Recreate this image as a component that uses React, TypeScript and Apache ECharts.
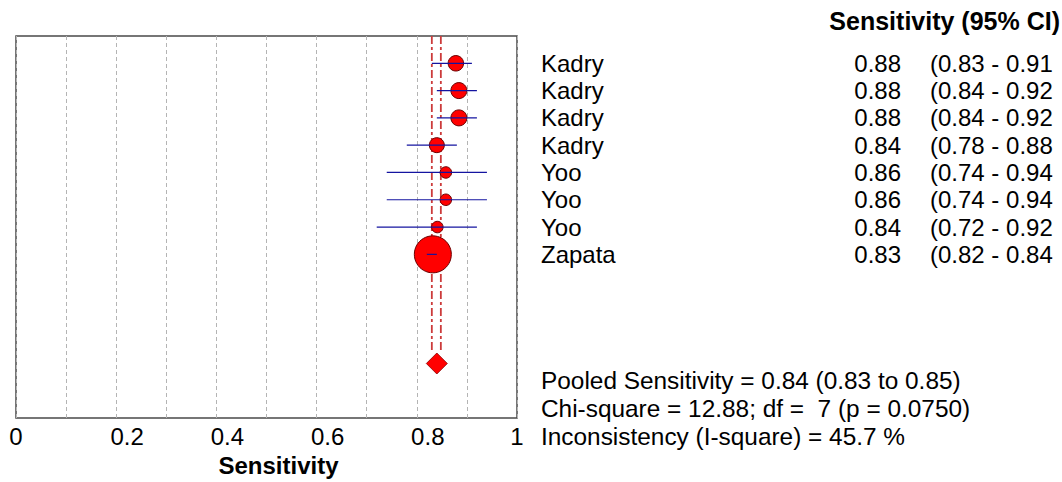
import React, { useEffect, useRef } from "react";
import * as echarts from "echarts";

const studies = ["Kadry", "Kadry", "Kadry", "Kadry", "Yoo", "Yoo", "Yoo", "Zapata"];
const sens = [0.878, 0.884, 0.884, 0.84, 0.858, 0.858, 0.841, 0.832];
const ciLow = [0.83, 0.84, 0.84, 0.78, 0.74, 0.74, 0.72, 0.82];
const ciHigh = [0.91, 0.92, 0.92, 0.88, 0.94, 0.94, 0.92, 0.84];
const weights = [15.5, 16, 16, 15, 11.5, 11.5, 11.5, 37];
const pooled = 0.84;
const pooledLow = 0.83;
const pooledHigh = 0.848;
const statLines = [
  "Pooled Sensitivity = 0.84 (0.83 to 0.85)",
  "Chi-square = 12.88; df =  7 (p = 0.0750)",
  "Inconsistency (I-square) = 45.7 %",
];
const ciTexts = [
  "(0.83 - 0.91",
  "(0.84 - 0.92",
  "(0.84 - 0.92",
  "(0.78 - 0.88",
  "(0.74 - 0.94",
  "(0.74 - 0.94",
  "(0.72 - 0.92",
  "(0.82 - 0.84",
];
const header = "Sensitivity (95% CI)";
const xTitle = "Sensitivity";

const FONT = 'Arial, "Liberation Sans", sans-serif';

export default function App() {
  const ref = useRef<HTMLDivElement>(null);
  useEffect(() => {
    if (!ref.current) return;
    const chart = echarts.init(ref.current, undefined, { renderer: "svg" });
    const rowY = studies.map((_, i) => i + 1);
    const pooledY = 12;

    const option: any = {
      animation: false,
      backgroundColor: "#ffffff",
      grid: {
        left: 16,
        right: 545,
        top: 36,
        bottom: 61,
        show: true,
        borderColor: "#4a4a4a",
        borderWidth: 1.5,
        backgroundColor: "transparent",
      },
      xAxis: {
        type: "value",
        min: 0,
        max: 1,
        interval: 0.1,
        axisLine: { show: false },
        axisTick: { show: false },
        splitLine: { show: true, lineStyle: { color: "#b4b4b4", type: [4, 3], width: 1 } },
        axisLabel: {
          margin: 6,
          color: "#000",
          fontFamily: FONT,
          fontSize: 24,
          formatter: (v: number) => {
            const k = Math.round(v * 10);
            if (k === 0) return "0";
            if (k === 10) return "1";
            if (k % 2 !== 0) return "";
            return "{m|" + (k / 10).toString() + "}";
          },
          rich: {
            m: { fontFamily: FONT, fontSize: 24, color: "#000", padding: [0, 0, 0, 22] },
          },
        },
        name: xTitle,
        nameLocation: "middle",
        nameGap: 33,
        nameTextStyle: {
          fontFamily: FONT,
          fontSize: 24,
          fontWeight: "bold",
          color: "#000",
          padding: [0, 0, 0, 24],
        },
      },
      yAxis: {
        type: "value",
        min: 0,
        max: 14,
        inverse: true,
        show: false,
        splitLine: { show: false },
      },
      series: [
        {
          type: "custom",
          name: "pooledLines",
          z: 1,
          renderItem: (params: any, api: any) => {
            const x = api.value(0);
            const a = api.coord([x, 0]);
            const b = api.coord([x, 11.55]);
            return {
              type: "line",
              shape: { x1: a[0], y1: a[1], x2: b[0], y2: b[1] },
              style: { stroke: "#cc3b3b", lineWidth: 1.8, lineDash: [8, 3, 3, 3] },
            };
          },
          data: [[pooledLow], [pooledHigh]],
          silent: true,
        },
        {
          type: "scatter",
          name: "studies",
          z: 2,
          symbol: "circle",
          data: sens.map((s, i) => ({ value: [s, rowY[i]], symbolSize: weights[i] })),
          itemStyle: { color: "#ff0000", borderColor: "#6a0000", borderWidth: 1, opacity: 1 },
        },
        {
          type: "custom",
          name: "ci",
          z: 3,
          renderItem: (params: any, api: any) => {
            const y = api.value(2);
            const a = api.coord([api.value(0), y]);
            const b = api.coord([api.value(1), y]);
            return {
              type: "line",
              shape: { x1: a[0], y1: a[1], x2: b[0], y2: b[1] },
              style: { stroke: "#1414a0", lineWidth: 1.2 },
            };
          },
          encode: { x: [0, 1], y: 2 },
          data: ciLow.map((l, i) => [l, ciHigh[i], rowY[i]]),
        },
        {
          type: "scatter",
          name: "pooled",
          z: 2,
          symbol: "diamond",
          symbolSize: [21, 21],
          data: [[pooled, pooledY]],
          itemStyle: { color: "#ff0000", borderColor: "#8a0000", borderWidth: 0.8, opacity: 1 },
        },
        {
          type: "custom",
          name: "table",
          clip: false,
          silent: true,
          renderItem: (params: any, api: any) => {
            const i = api.value(1);
            const p = api.coord([1, api.value(0)]);
            const base = { fill: "#000", fontFamily: FONT, fontSize: 24, verticalAlign: "middle", textVerticalAlign: "middle" };
            return {
              type: "group",
              children: [
                { type: "text", x: p[0] + 24, y: p[1], style: { ...base, text: studies[i], align: "left", textAlign: "left" } },
                { type: "text", x: p[0] + 384, y: p[1], style: { ...base, text: sens[i].toFixed(2), align: "right", textAlign: "right" } },
                { type: "text", x: p[0] + 413, y: p[1], style: { ...base, text: ciTexts[i], align: "left", textAlign: "left" } },
              ],
            };
          },
          data: rowY.map((y, i) => [y, i]),
        },
      ],
      graphic: [
        {
          type: "text",
          x: 1060,
          y: 21,
          style: {
            text: header,
            fill: "#000",
            font: 'bold 25px ' + FONT,
            align: "right",
            textAlign: "right",
            verticalAlign: "middle",
            textVerticalAlign: "middle",
          },
        },
        ...statLines.map((t, i) => ({
          type: "text",
          x: 541,
          y: 380 + i * 28,
          style: {
            text: t,
            fill: "#000",
            font: '24.4px ' + FONT,
            align: "left",
            textAlign: "left",
            verticalAlign: "middle",
            textVerticalAlign: "middle",
          },
        })),
      ],
    };
    chart.setOption(option);
    return () => chart.dispose();
  }, []);
  return (
    <div
      ref={ref}
      style={{ position: "absolute", left: 0, top: 0, width: 1062, height: 482, background: "#fff" }}
    />
  );
}
